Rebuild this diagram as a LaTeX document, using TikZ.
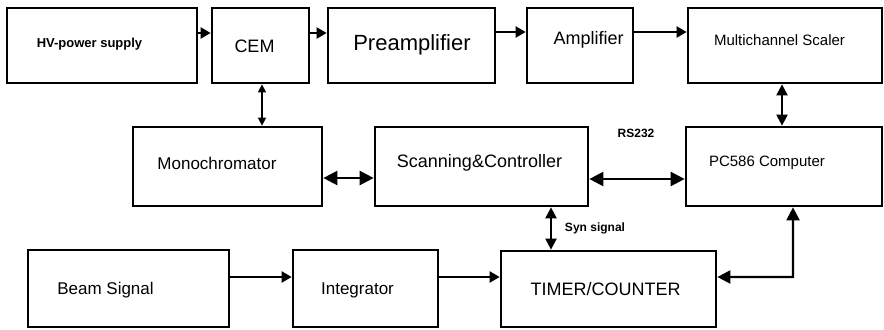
\documentclass[tikz,border=0pt]{standalone}
\usepackage{fontspec}
\setmainfont{Liberation Sans}
\usetikzlibrary{arrows.meta,calc}
\newcommand{\fs}[1]{\fontsize{#1bp}{#1bp}\selectfont}
\tikzset{
  blk/.style={draw, line width=2.7bp, minimum height=75bp, inner sep=0pt, rectangle},
  arr/.style={line width=2.2bp, -{Triangle[length=10bp,width=11bp]}},
  dbl/.style={line width=2.2bp, {Triangle[length=11bp,width=11bp]}-{Triangle[length=11bp,width=11bp]}},
  bigdbl/.style={line width=2.4bp, {Triangle[length=14bp,width=14bp]}-{Triangle[length=14bp,width=14bp]}},
  thindbl/.style={line width=1.3bp, {Triangle[length=8bp,width=8bp]}-{Triangle[length=8bp,width=8bp]}},
  lab/.style={inner sep=0pt}
}
\begin{document}
\begin{tikzpicture}[x=1bp,y=-1bp]
\useasboundingbox (0,0) rectangle (884,329);
% top row
\node[blk, minimum width=190bp] (hv) at (102,45.5) {};
\node[lab, font=\fs{13}\bfseries] (hvt) at (89.5,44.5) {HV-power supply};
\node[blk, minimum width=97bp] (cem) at (260.5,45.5) {};
\node[lab, font=\fs{18}] (cemt) at (254.5,46) {CEM};
\node[blk, minimum width=167bp] (pre) at (411.5,45.5) {};
\node[lab, font=\fs{22}] (pret) at (412,45) {Preamplifier};
\node[blk, minimum width=106bp] (amp) at (580,45.5) {};
\node[lab, font=\fs{18}] (ampt) at (588.5,40) {Amplifier};
\node[blk, minimum width=194bp] (mcs) at (785,45.5) {};
\node[lab, font=\fs{15}] (mcst) at (779.5,40) {Multichannel Scaler};
% middle row
\node[blk, minimum width=189bp, minimum height=79bp] (mono) at (227.5,166.5) {};
\node[lab, font=\fs{17}] (monot) at (217,163) {Monochromator};
\node[blk, minimum width=213bp, minimum height=79bp] (scan) at (481.5,166.5) {};
\node[lab, font=\fs{18}] (scant) at (479.5,163) {Scanning\&Controller};
\node[blk, minimum width=196bp, minimum height=79bp] (pc) at (784,166.5) {};
\node[lab, font=\fs{15}] (pct) at (767,163) {PC586 Computer};
% bottom row
\node[blk, minimum width=201bp, minimum height=77bp] (beam) at (128.5,288.5) {};
\node[lab, font=\fs{17}] (beamt) at (105.5,290) {Beam Signal};
\node[blk, minimum width=145bp, minimum height=77bp] (integ) at (365.5,288.5) {};
\node[lab, font=\fs{17}] (integt) at (357.5,290) {Integrator};
\node[blk, minimum width=215bp, minimum height=76bp] (timer) at (608.5,289) {};
\node[lab, font=\fs{18}] (timert) at (605.5,289) {TIMER/COUNTER};
% labels
\node[lab, font=\fs{12}\bfseries] (rs) at (636,133) {RS232};
\node[lab, font=\fs{12}\bfseries] (syn) at (595,228) {Syn signal};
% connectors top
\draw[arr] ([yshift=12.5bp]hv.east) -- ([yshift=12.5bp]cem.west);
\draw[arr] ([yshift=12.5bp]cem.east) -- ([yshift=12.5bp]pre.west);
\draw[arr] ([yshift=13.5bp]pre.east) -- ([yshift=13.5bp]amp.west);
\draw[arr] ([yshift=13.5bp]amp.east) -- ([yshift=13.5bp]mcs.west);
% verticals
\draw[thindbl] ([xshift=1.5bp]cem.south) -- ([xshift=1.5bp]cem.south |- mono.north);
\draw[dbl] ([xshift=-3bp]mcs.south) -- ([xshift=-3bp]mcs.south |- pc.north);
% middle horizontals
\draw[bigdbl] ([yshift=-11.5bp]mono.east) -- ([yshift=-11.5bp]scan.west);
\draw[bigdbl] ([yshift=-12.5bp]scan.east) -- ([yshift=-12.5bp]pc.west);
% scan - timer
\draw[dbl] ([xshift=69.5bp]scan.south) -- ([xshift=69.5bp]scan.south |- timer.north);
% bottom
\draw[arr] ([yshift=11.5bp]beam.east) -- ([yshift=11.5bp]integ.west);
\draw[arr] ([yshift=11.5bp]integ.east) -- ([yshift=12bp]timer.west);
\coordinate (bend) at (793,277);
\draw[line width=2.2bp, {Triangle[length=13bp,width=13bp]}-{Triangle[length=13bp,width=13bp]}] ([yshift=12bp]timer.east) -- (bend) -- (bend |- pc.south);
\end{tikzpicture}
\end{document}
